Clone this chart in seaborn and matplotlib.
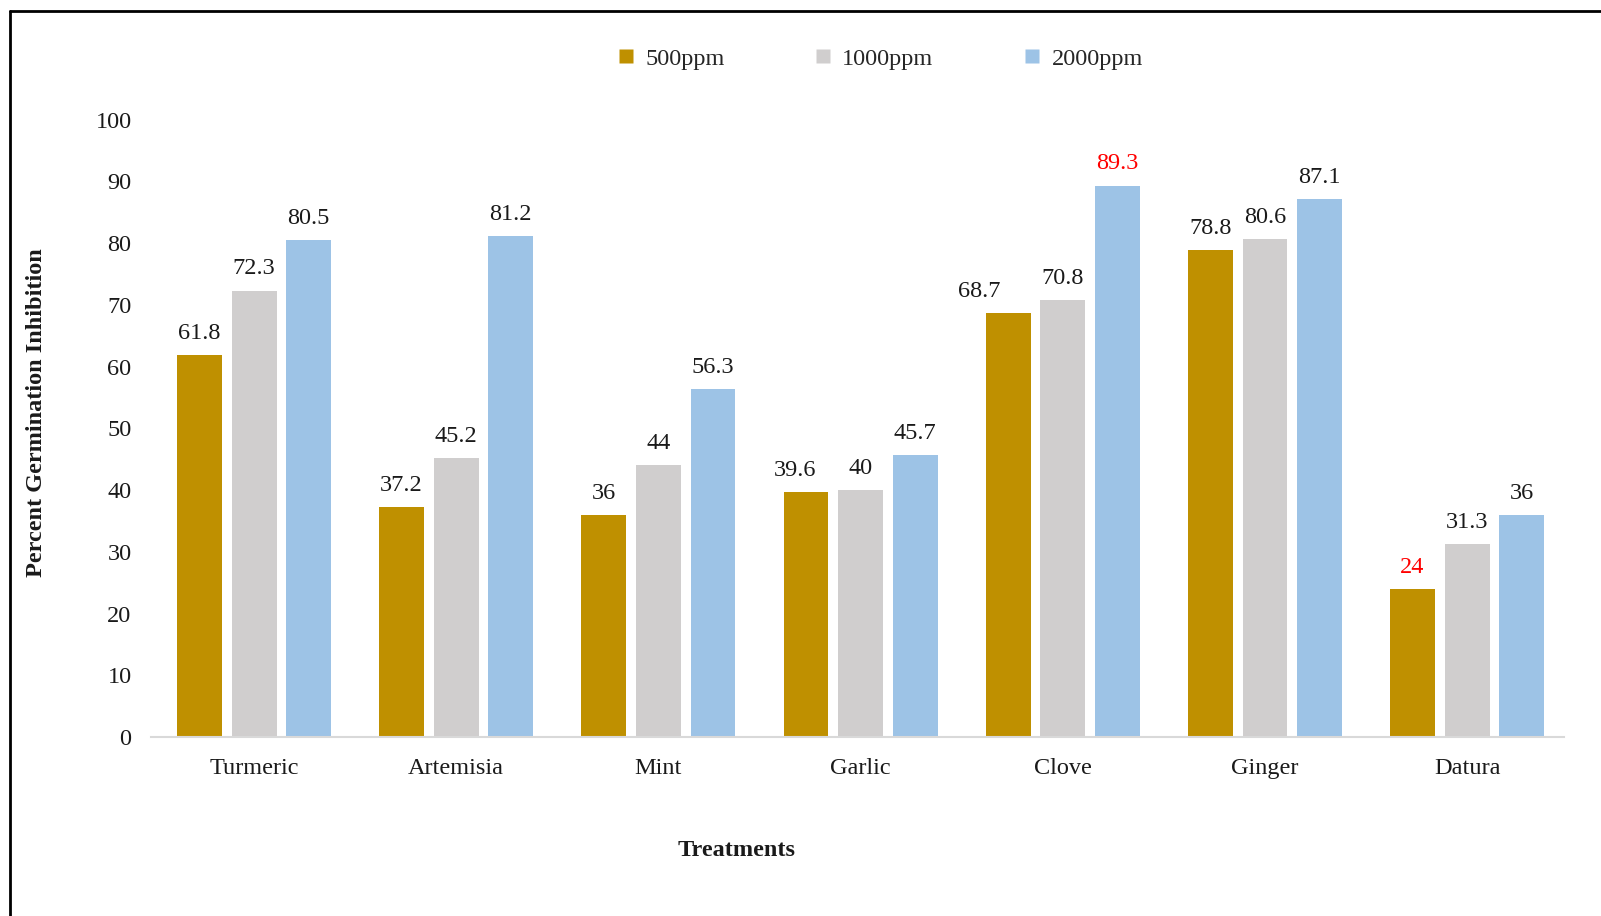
import matplotlib
matplotlib.use("Agg")
import matplotlib.pyplot as plt
import seaborn as sns
import pandas as pd
from matplotlib.lines import Line2D

treatments = ["Turmeric", "Artemisia", "Mint", "Garlic", "Clove", "Ginger", "Datura"]
series_names = ["500ppm", "1000ppm", "2000ppm"]
v500 = [61.8, 37.2, 36, 39.6, 68.7, 78.8, 24]
v1000 = [72.3, 45.2, 44, 40, 70.8, 80.6, 31.3]
v2000 = [80.5, 81.2, 56.3, 45.7, 89.3, 87.1, 36]
yticks = [0, 10, 20, 30, 40, 50, 60, 70, 80, 90, 100]

colors = ["#BF9000", "#D0CECE", "#9DC3E6"]
label_red = {("2000ppm", "Clove"), ("500ppm", "Datura")}
# horizontal label nudges (points), as in the original chart
label_dx = {("500ppm", "Clove"): -21, ("500ppm", "Garlic"): -8}

rows = []
for name, vals in zip(series_names, [v500, v1000, v2000]):
    for t, v in zip(treatments, vals):
        rows.append({"Treatment": t, "Series": name, "Value": v})
df = pd.DataFrame(rows)

sns.set_theme(style="white")
plt.rcParams["font.family"] = ["Liberation Serif", "DejaVu Serif"]

fig = plt.figure(figsize=(16.01, 9.16), dpi=100)
ax = fig.add_axes([0.0943, 0.1954, 0.977 - 0.0943, 0.8695 - 0.1954])

sns.barplot(data=df, x="Treatment", y="Value", hue="Series", order=treatments,
            hue_order=series_names, palette=colors, width=0.81, saturation=1,
            errorbar=None, ax=ax, legend=False)

FS = 17.5
bar_w = 0.222
for i, cont in enumerate(ax.containers):
    name = series_names[i]
    for j, p in enumerate(cont.patches):
        cx = p.get_x() + p.get_width() / 2
        p.set_x(cx - bar_w / 2)
        p.set_width(bar_w)
        p.set_edgecolor("none")
        val = p.get_height()
        key = (name, treatments[j])
        col = "#FF0000" if key in label_red else "#1a1a1a"
        ax.annotate(f"{val:g}", (cx, val), xytext=(label_dx.get(key, 0), 8),
                    textcoords="offset points", ha="center", va="bottom",
                    fontsize=FS, color=col)

ax.set_xlim(-0.51, 6.48)
ax.set_ylim(0, 100)
ax.set_yticks(yticks)
ax.set_yticklabels([str(t) for t in yticks])
ax.tick_params(axis="both", length=0, labelsize=FS, colors="#1a1a1a")
ax.tick_params(axis="y", pad=14)
ax.tick_params(axis="x", pad=15)
for s in ["top", "right", "left"]:
    ax.spines[s].set_visible(False)
ax.spines["bottom"].set_color("#D9D9D9")
ax.spines["bottom"].set_linewidth(1.5)
ax.grid(False)

ax.set_xlabel("")
ax.set_ylabel("")
fig.text(0.0225, 0.55, "Percent Germination Inhibition", rotation=90, ha="center",
         va="center", fontsize=FS, fontweight="bold", color="#1a1a1a")
fig.text(0.46, 0.0715, "Treatments", ha="center", va="center", fontsize=FS,
         fontweight="bold", color="#1a1a1a")

handles = [Line2D([0], [0], marker="s", linestyle="none", markersize=10,
                  markerfacecolor=c, markeredgecolor="none") for c in colors]
fig.legend(handles, series_names, loc="center", bbox_to_anchor=(0.5485, 0.936),
           ncol=3, frameon=False, fontsize=FS, handletextpad=0.3, columnspacing=3.55,
           handlelength=1.0)

# outer frame (left and top visible)
fig.add_artist(Line2D([0.0062, 0.0062], [0, 0.988], transform=fig.transFigure,
                      color="black", linewidth=2))
fig.add_artist(Line2D([0.0062, 1.0], [0.988, 0.988], transform=fig.transFigure,
                      color="black", linewidth=2))

fig.savefig("out.png", dpi=100)
